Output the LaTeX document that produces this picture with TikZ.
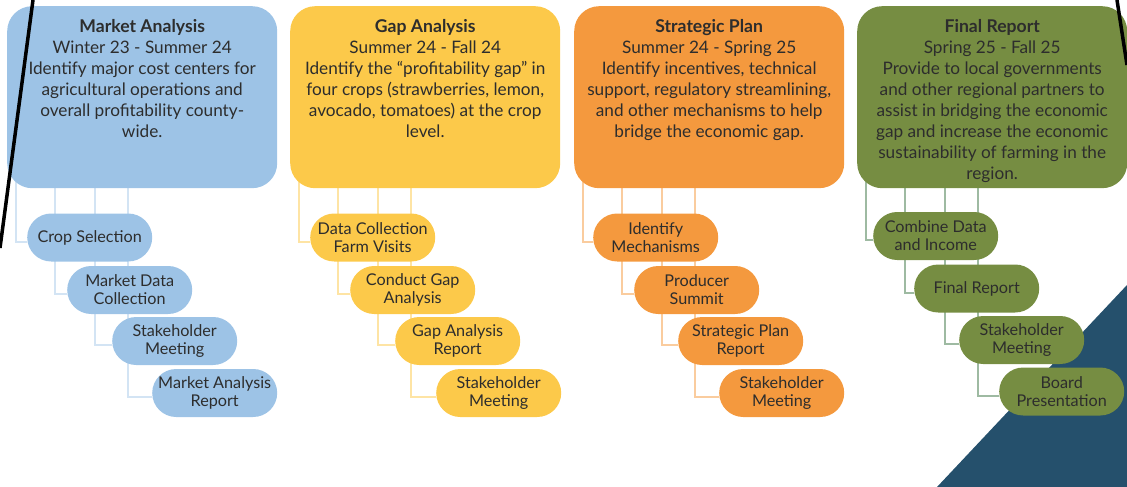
\documentclass[tikz,border=0pt]{standalone}
\usepackage{fontspec}
\setmainfont{Lato}
\usetikzlibrary{backgrounds}

\definecolor{ink}{RGB}{45,45,45}
\definecolor{mablue}{RGB}{157,195,230}
\definecolor{gayellow}{RGB}{252,201,74}
\definecolor{sporange}{RGB}{244,153,62}
\definecolor{frgreen}{RGB}{118,141,66}
\definecolor{frline}{RGB}{158,186,162}
\definecolor{navy}{RGB}{37,80,108}

% title, dates and description of one phase, top aligned in its box
\newcommand{\phasetext}[3]{%
  \parbox[t][182pt][t]{270pt}{\centering\fontsize{17.2}{21}\selectfont
    \rule{0pt}{26pt}{\fontsize{17.6}{21}\selectfont\bfseries #1}\\#2\\#3}}

\begin{document}
\begin{tikzpicture}[
    every node/.style={text=ink, font=\fontsize{16.2}{18}\selectfont},
    phase/.style={rectangle, rounded corners=25pt, anchor=north west, inner sep=0pt,
      minimum width=270pt, minimum height=182pt},
    task/.style={rectangle, rounded corners=24pt, anchor=west, inner sep=0pt,
      minimum width=125pt, minimum height=48pt, align=center},
    link/.style={line width=2pt}
  ]
  \useasboundingbox (0pt,0pt) rectangle (1127pt,-487pt);

  % phases
  \node (ma) [phase, fill=mablue] at (7pt,-6pt) {\phasetext{Market Analysis}{Winter 23 - Summer 24}{Identify major cost centers for\\agricultural operations and\\overall profitability county-\\wide.}};
  \node (ga) [phase, fill=gayellow] at (290pt,-6pt) {\phasetext{Gap Analysis}{Summer 24 - Fall 24}{Identify the “profitability gap” in\\four crops (strawberries, lemon,\\avocado, tomatoes) at the crop\\level.}};
  \node (sp) [phase, fill=sporange] at (574pt,-6pt) {\phasetext{Strategic Plan}{Summer 24 - Spring 25}{Identify incentives, technical\\support, regulatory streamlining,\\and other mechanisms to help\\bridge the economic gap.}};
  \node (fr) [phase, fill=frgreen] at (857pt,-6pt) {\phasetext{Final Report}{Spring 25 - Fall 25}{Provide to local governments\\and other regional partners to\\assist in bridging the economic\\gap and increase the economic\\sustainability of farming in the\\region.}};

  % tasks
  \node (ma_1) [task, fill=mablue] at (27pt,-237.5pt) {Crop Selection};
  \node (ma_2) [task, fill=mablue] at (67pt,-290pt) {Market Data\\Collection};
  \node (ma_3) [task, fill=mablue] at (112pt,-341pt) {Stakeholder\\Meeting};
  \node (ma_4) [task, fill=mablue] at (152pt,-393pt) {Market Analysis\\Report};

  \node (ga_1) [task, fill=gayellow] at (310pt,-237.5pt) {Data Collection\\Farm Visits};
  \node (ga_2) [task, fill=gayellow] at (350pt,-290pt) {Conduct Gap\\Analysis};
  \node (ga_3) [task, fill=gayellow] at (395pt,-341pt) {Gap Analysis\\Report};
  \node (ga_4) [task, fill=gayellow] at (436pt,-393pt) {Stakeholder\\Meeting};

  \node (sp_1) [task, fill=sporange] at (593pt,-237.5pt) {Identify\\Mechanisms};
  \node (sp_2) [task, fill=sporange] at (634pt,-290pt) {Producer\\Summit};
  \node (sp_3) [task, fill=sporange] at (678pt,-341pt) {Strategic Plan\\Report};
  \node (sp_4) [task, fill=sporange] at (719pt,-393pt) {Stakeholder\\Meeting};

  \node (fr_1) [task, fill=frgreen] at (873pt,-236pt) {Combine Data\\and Income};
  \node (fr_2) [task, fill=frgreen] at (914pt,-288.5pt) {Final Report};
  \node (fr_3) [task, fill=frgreen] at (959pt,-340pt) {Stakeholder\\Meeting};
  \node (fr_4) [task, fill=frgreen] at (999pt,-391.5pt) {Board\\Presentation};

  \begin{scope}[on background layer]
    \fill[navy] (1127pt,-285pt) -- (937pt,-487pt) -- (1127pt,-487pt) -- cycle;
    % elbow links from each phase down to its tasks
    \foreach \col/\tint in {ma/mablue!45!white, ga/gayellow!50!white, sp/sporange!50!white, fr/frline}
      \foreach \i/\dx in {1/9pt, 2/48pt, 3/88pt, 4/121pt}
        \draw[link, draw=\tint] ([xshift=\dx, yshift=20pt]\col.south west) |- ([yshift=-4pt]\col_\i.west);
  \end{scope}

  % cut edges
  \draw[line width=3.5pt] (33pt,0pt) -- (0pt,-248pt);
  \draw[line width=3.5pt] (1117pt,0pt) -- (1127pt,-65pt);
\end{tikzpicture}
\end{document}
